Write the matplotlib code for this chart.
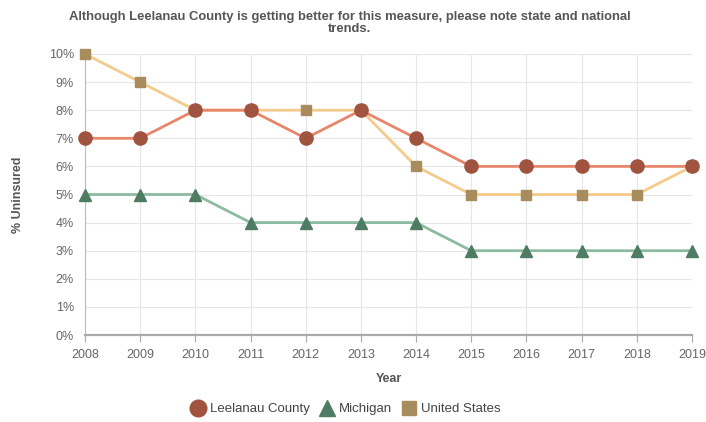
import matplotlib
matplotlib.use("Agg")
import matplotlib.pyplot as plt
from matplotlib.ticker import FuncFormatter
from matplotlib.lines import Line2D

years = [2008, 2009, 2010, 2011, 2012, 2013, 2014, 2015, 2016, 2017, 2018, 2019]
leelanau = [7, 7, 8, 8, 7, 8, 7, 6, 6, 6, 6, 6]
michigan = [5, 5, 5, 4, 4, 4, 4, 3, 3, 3, 3, 3]
united_states = [10, 9, 8, 8, 8, 8, 6, 5, 5, 5, 5, 6]

plt.rcParams['font.family'] = ['Liberation Sans', 'DejaVu Sans']

fig = plt.figure(figsize=(7.06, 4.22), dpi=100)
ax = fig.add_axes([85/706, 1-335/422, (692-85)/706, (335-54)/422])

ax.plot(years, united_states, color='#F5CB8C', lw=2, marker='s', ms=6.5,
        mfc='#A88C5E', mec='#A88C5E', label='United States', zorder=3, clip_on=False)
ax.plot(years, leelanau, color='#E8866C', lw=2, marker='o', ms=9.5,
        mfc='#A0533F', mec='#A0533F', label='Leelanau County', zorder=4, clip_on=False)
ax.plot(years, michigan, color='#8DBBA0', lw=2, marker='^', ms=8,
        mfc='#4E7C63', mec='#4E7C63', label='Michigan', zorder=3, clip_on=False)

ax.set_xlim(2008, 2019)
ax.set_ylim(0, 10)
ax.set_xticks(years)
ax.set_yticks(range(0, 11))
ax.yaxis.set_major_formatter(FuncFormatter(lambda v, p: f"{int(v)}%"))
ax.grid(True, color='#E6E6E6', lw=0.8)
ax.set_axisbelow(True)
for s in ['top', 'right']:
    ax.spines[s].set_visible(False)
ax.spines['left'].set_color('#BBBBBB')
ax.spines['bottom'].set_color('#AAAAAA')
ax.spines['bottom'].set_linewidth(1.6)
ax.tick_params(axis='both', length=0, labelsize=9, colors='#666666', pad=8)
ax.tick_params(axis='x', length=5, color='#AAAAAA', pad=5)

ax.set_xlabel('Year', fontsize=9, fontweight='bold', color='#555555', labelpad=9)
ax.set_ylabel('% Uninsured', fontsize=9, fontweight='bold', color='#555555', labelpad=18)

fig.text(0.495, 0.975, 'Although Leelanau County is getting better for this measure, please note state and national\ntrends.',
         ha='center', va='top', fontsize=9.4, fontweight='bold', color='#555555', linespacing=1.1)

handles = [
    Line2D([], [], ls='none', marker='o', ms=12, mfc='#A0533F', mec='#A0533F'),
    Line2D([], [], ls='none', marker='^', ms=11, mfc='#4E7C63', mec='#4E7C63'),
    Line2D([], [], ls='none', marker='s', ms=10, mfc='#A88C5E', mec='#A88C5E'),
]
labels = ['Leelanau County', 'Michigan', 'United States']
leg = fig.legend(handles, labels,
                 loc='center', bbox_to_anchor=(346/706, 1-409/422), ncol=3, frameon=False,
                 fontsize=9.5, handlelength=1.0, handletextpad=0.4, columnspacing=0.8, labelcolor='#444444')

fig.savefig('out.png', dpi=100)
